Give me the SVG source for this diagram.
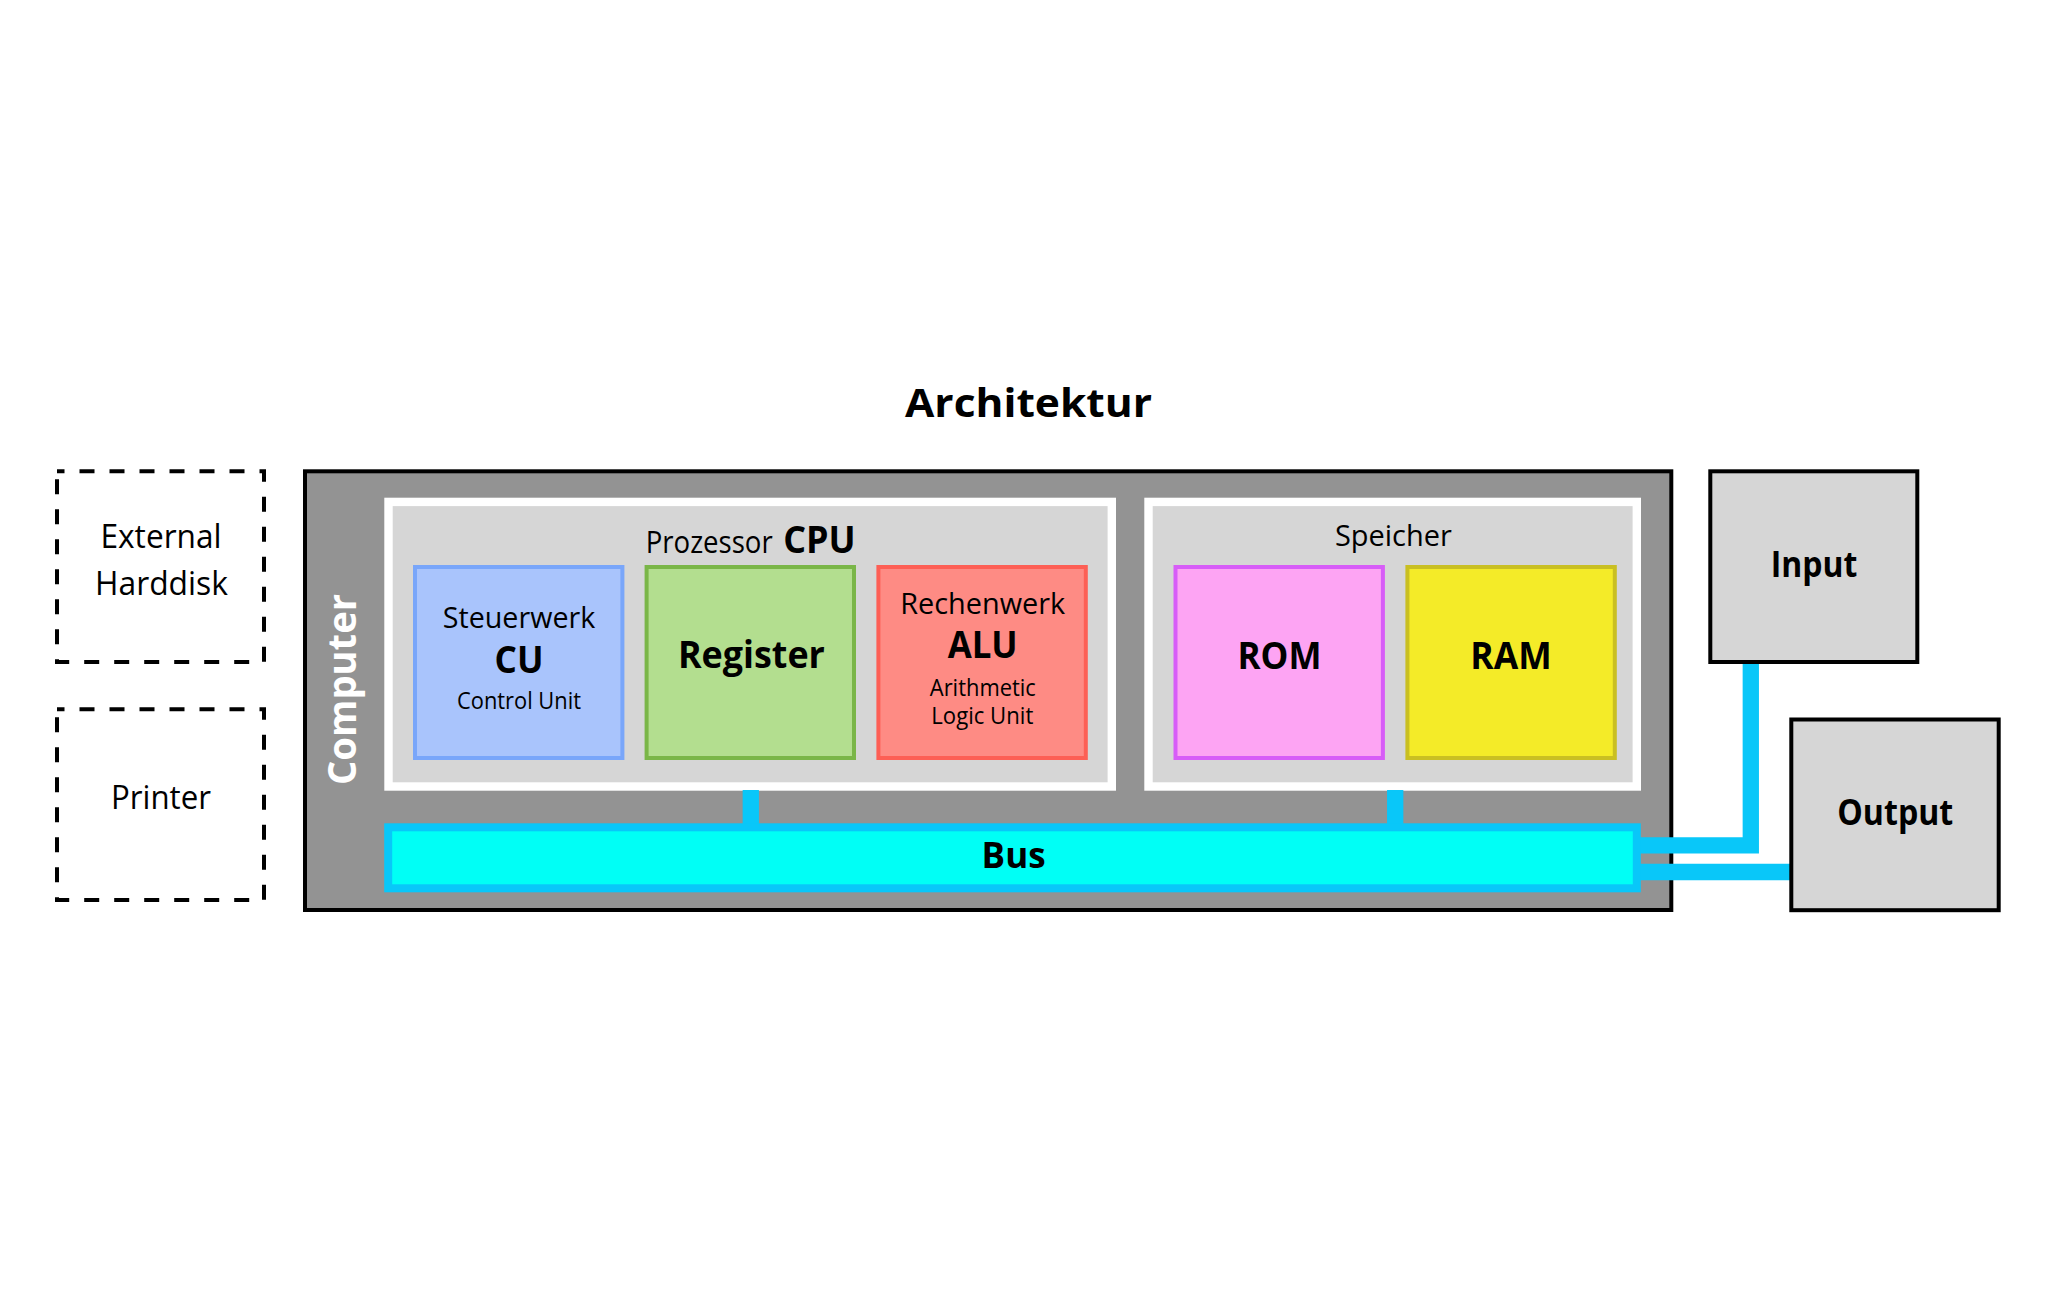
<svg xmlns="http://www.w3.org/2000/svg" width="2048" height="1300" viewBox="0 0 2048 1300">
<style>
  text { font-family: "Open Sans", "Noto Sans", "Liberation Sans", sans-serif; fill: #000; text-anchor: middle; }
  .b { font-weight: 700; }
  .r { font-weight: 400; }
  .dash { fill: none; stroke: #000; stroke-width: 4; stroke-dasharray: 15 15; stroke-dashoffset: 7.5; }
  .blk { stroke: #000; stroke-width: 4; }
  .wb { fill: #d6d6d6; stroke: #fff; stroke-width: 8.4; }
  .unit { stroke-width: 4; }
  .conn { fill: none; stroke: #09c7f9; stroke-width: 16.3; stroke-linejoin: miter; stroke-linecap: butt; }
</style>
<rect x="0" y="0" width="2048" height="1300" fill="#fff"/>

<text id="title" class="b" x="1028.5" y="417" font-size="40" textLength="247" lengthAdjust="spacingAndGlyphs">Architektur</text>

<g id="external-harddisk">
  <rect class="dash" x="57" y="471.3" width="207" height="190.7"/>
  <text class="r" x="161" y="548" font-size="33" textLength="121" lengthAdjust="spacingAndGlyphs">External</text>
  <text class="r" x="161.5" y="595" font-size="33" textLength="133" lengthAdjust="spacingAndGlyphs">Harddisk</text>
</g>

<g id="printer">
  <rect class="dash" x="57" y="709.3" width="207" height="190.7"/>
  <text class="r" x="161" y="809" font-size="33" textLength="100" lengthAdjust="spacingAndGlyphs">Printer</text>
</g>

<g id="computer">
  <rect class="blk" x="305" y="471.3" width="1366.3" height="438.7" fill="#939393"/>
  <text class="b" transform="translate(356,689.5) rotate(-90)" x="0" y="0" font-size="40" fill="#fff" style="fill:#fff" textLength="191" lengthAdjust="spacingAndGlyphs">Computer</text>
</g>

<g id="cpu">
  <rect class="wb" x="388.5" y="501.9" width="723.3" height="284.6"/>
  <text y="553" style="text-anchor:start"><tspan class="r" x="645.7" font-size="31" textLength="127" lengthAdjust="spacingAndGlyphs">Prozessor</tspan><tspan class="b" x="783.2" font-size="38" textLength="72.5" lengthAdjust="spacingAndGlyphs">CPU</tspan></text>
</g>

<g id="cu">
  <rect class="unit" x="415" y="567" width="207.4" height="191" fill="#a9c4fc" stroke="#79a6fa"/>
  <text class="r" x="519" y="628" font-size="30" textLength="152.5" lengthAdjust="spacingAndGlyphs">Steuerwerk</text>
  <text class="b" x="519" y="672.5" font-size="37.5" textLength="49" lengthAdjust="spacingAndGlyphs">CU</text>
  <text class="r" x="519" y="709.3" font-size="24" textLength="124" lengthAdjust="spacingAndGlyphs">Control Unit</text>
</g>

<g id="register">
  <rect class="unit" x="646.6" y="567" width="207.4" height="191" fill="#b3de8f" stroke="#7ab648"/>
  <text class="b" x="751.4" y="668" font-size="37" textLength="147" lengthAdjust="spacingAndGlyphs">Register</text>
</g>

<g id="alu">
  <rect class="unit" x="878.4" y="567" width="207.4" height="191" fill="#fe8b84" stroke="#fd5f55"/>
  <text class="r" x="982.7" y="613.6" font-size="30" textLength="165" lengthAdjust="spacingAndGlyphs">Rechenwerk</text>
  <text class="b" x="982.7" y="658.2" font-size="37.5" textLength="70" lengthAdjust="spacingAndGlyphs">ALU</text>
  <text class="r" x="982.8" y="695.7" font-size="24" textLength="106" lengthAdjust="spacingAndGlyphs">Arithmetic</text>
  <text class="r" x="982.3" y="723.6" font-size="24" textLength="102" lengthAdjust="spacingAndGlyphs">Logic Unit</text>
</g>

<g id="speicher">
  <rect class="wb" x="1148.5" y="501.9" width="488.3" height="284.6"/>
  <text class="r" x="1393.4" y="546.4" font-size="30" textLength="117" lengthAdjust="spacingAndGlyphs">Speicher</text>
</g>

<g id="rom">
  <rect class="unit" x="1175.5" y="567" width="207.4" height="191" fill="#fda4f3" stroke="#d75df7"/>
  <text class="b" x="1279.5" y="669" font-size="37.5" textLength="84" lengthAdjust="spacingAndGlyphs">ROM</text>
</g>

<g id="ram">
  <rect class="unit" x="1407.4" y="567" width="207.4" height="191" fill="#f4eb28" stroke="#c9bf22"/>
  <text class="b" x="1511" y="669" font-size="37.5" textLength="81.4" lengthAdjust="spacingAndGlyphs">RAM</text>
</g>

<g id="connectors">
  <line class="conn" x1="750.8" y1="790" x2="750.8" y2="824"/>
  <line class="conn" x1="1395.2" y1="790" x2="1395.2" y2="824"/>
  <polyline class="conn" points="1640,845.3 1750.8,845.3 1750.8,663"/>
  <line class="conn" x1="1640" y1="872" x2="1790" y2="872"/>
</g>

<g id="bus">
  <rect x="388.2" y="827.3" width="1248.6" height="61" fill="#00fff6" stroke="#09c7f9" stroke-width="8"/>
  <text class="b" x="1013.6" y="868" font-size="35" textLength="64" lengthAdjust="spacingAndGlyphs">Bus</text>
</g>

<g id="input">
  <rect class="blk" x="1710.3" y="471.3" width="207" height="190.7" fill="#d6d6d6"/>
  <text class="b" x="1814" y="577" font-size="35" textLength="86.7" lengthAdjust="spacingAndGlyphs">Input</text>
</g>

<g id="output">
  <rect class="blk" x="1791.3" y="719.5" width="207.4" height="190.7" fill="#d6d6d6"/>
  <text class="b" x="1895.3" y="825" font-size="35" textLength="116" lengthAdjust="spacingAndGlyphs">Output</text>
</g>
</svg>
